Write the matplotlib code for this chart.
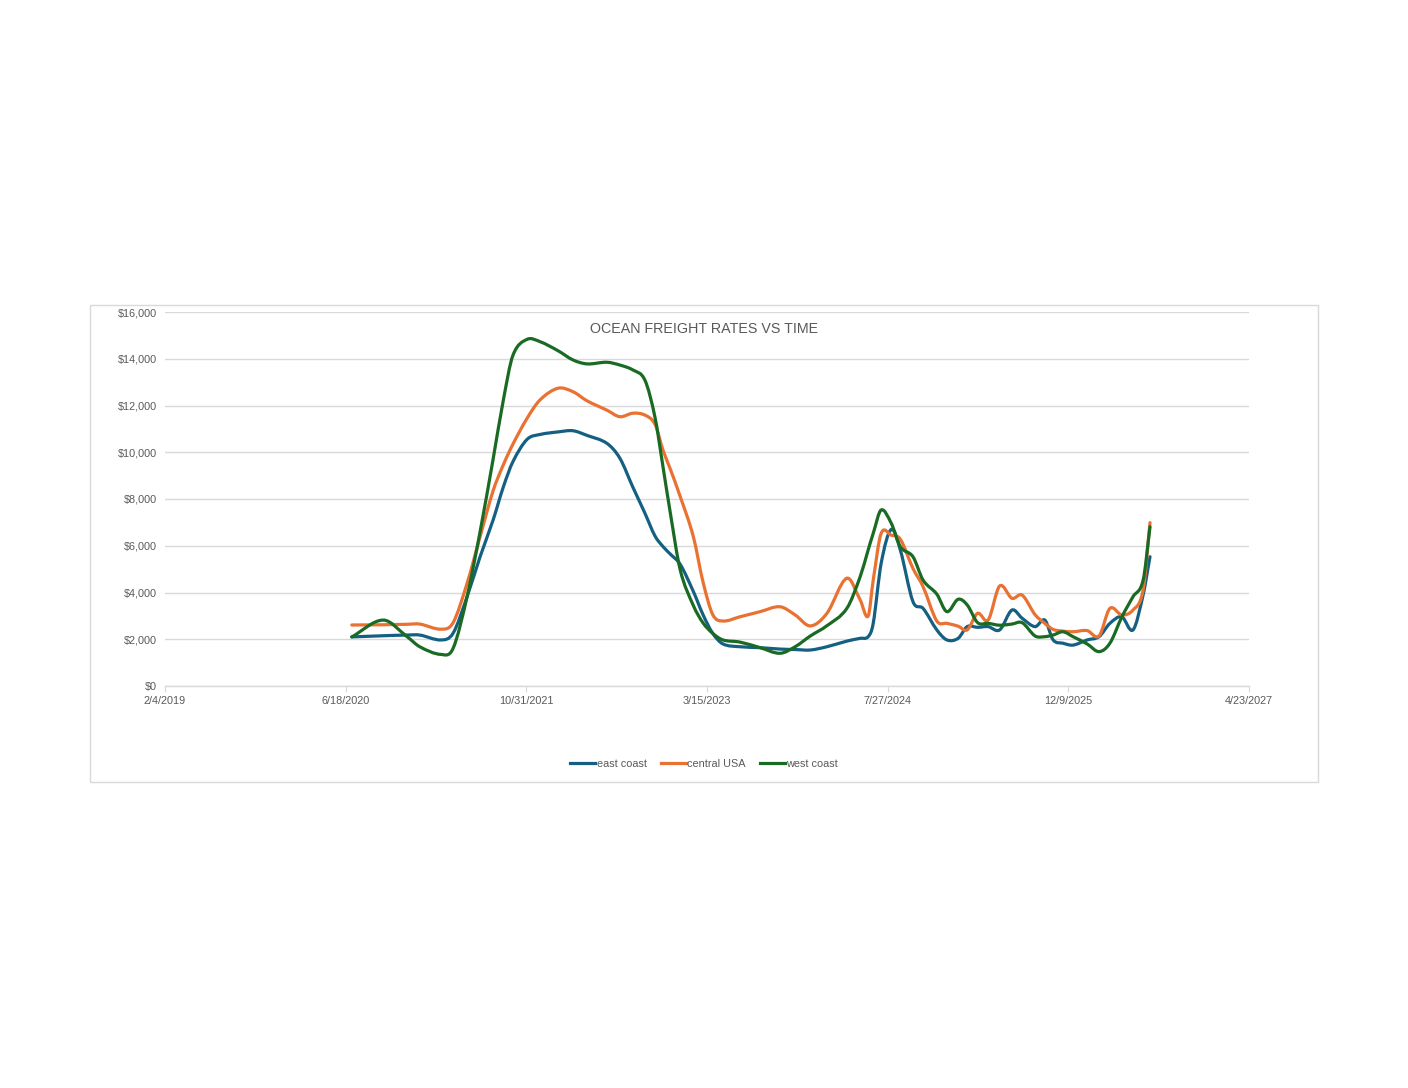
import matplotlib
matplotlib.use("Agg")
import matplotlib.pyplot as plt
import matplotlib.dates as mdates
from matplotlib.path import Path
from matplotlib.patches import PathPatch, Rectangle
from matplotlib.ticker import FixedLocator, FuncFormatter, MultipleLocator
import numpy as np
import pandas as pd

dates = ["2020-07-05", "2020-09-30", "2020-12-05", "2021-01-09", "2021-03-09", "2021-04-11",
         "2021-05-20", "2021-06-25", "2021-07-31", "2021-08-28", "2021-09-24", "2021-11-02",
         "2021-12-08", "2022-01-27", "2022-03-09", "2022-04-17", "2022-06-11", "2022-07-17",
         "2022-08-22", "2022-09-24", "2022-10-22", "2022-11-13", "2022-12-03", "2022-12-31",
         "2023-02-05", "2023-03-04", "2023-03-31", "2023-04-28", "2023-06-14", "2023-08-09",
         "2023-10-03", "2023-11-14", "2023-12-26", "2024-02-10", "2024-04-05", "2024-05-12",
         "2024-06-03", "2024-06-17", "2024-07-09", "2024-08-06", "2024-08-31", "2024-10-05",
         "2024-11-02", "2024-12-10", "2025-01-07", "2025-02-07", "2025-03-04", "2025-04-02",
         "2025-05-01", "2025-06-02", "2025-07-06", "2025-08-03", "2025-09-08", "2025-10-05",
         "2025-10-28", "2025-11-24", "2025-12-22", "2026-01-30", "2026-03-04", "2026-04-03",
         "2026-05-06", "2026-06-06", "2026-07-04", "2026-07-23"]

east_coast = [2100, 2150, 2180, 2180, 1970, 2250, 3820, 5530, 7100, 8500, 9600, 10550,
              10760, 10870, 10920, 10720, 10380, 9740, 8500, 7400, 6420, 5970, 5650, 5200,
              4050, 3050, 2250, 1800, 1680, 1640, 1580, 1560, 1540, 1680, 1920, 2040,
              2110, 2680, 5250, 6700, 5820, 3610, 3320, 2400, 1970, 2040, 2540, 2510,
              2540, 2400, 3250, 2900, 2540, 2820, 1970, 1830, 1750, 1970, 2110, 2680,
              2960, 2400, 3900, 5530]

central_usa = [2610, 2620, 2640, 2650, 2430, 2700, 4390, 6390, 8350, 9450, 10350, 11450,
               12240, 12740, 12590, 12200, 11800, 11520, 11670, 11590, 11200, 10100, 9300, 8100,
               6400, 4450, 3050, 2780, 2960, 3180, 3390, 3040, 2570, 3110, 4610, 3680,
               2990, 4530, 6530, 6450, 6280, 5030, 4250, 2780, 2680, 2560, 2400, 3110,
               2820, 4280, 3750, 3890, 3050, 2680, 2420, 2350, 2320, 2370, 2140, 3320,
               3040, 3250, 4110, 6990]

west_coast = [2100, 2820, 2110, 1680, 1350, 1600, 3820, 6600, 9700, 12200, 14150, 14830,
              14730, 14340, 13950, 13780, 13850, 13730, 13520, 13090, 11500, 9400, 7450, 4960,
              3450, 2700, 2250, 1970, 1880, 1640, 1400, 1680, 2140, 2580, 3320, 4680,
              5820, 6530, 7530, 6960, 5960, 5530, 4530, 3930, 3180, 3710, 3470, 2710,
              2680, 2600, 2650, 2710, 2140, 2110, 2180, 2320, 2110, 1800, 1470, 1830,
              2950, 3820, 4530, 6810]

series_names = ["east coast", "central USA", "west coast"]
series_colors = ["#156082", "#E97132", "#196B24"]
tick_dates = ["2019-02-04", "2020-06-18", "2021-10-31", "2023-03-15",
              "2024-07-27", "2025-12-09", "2027-04-23"]

plt.rcParams['font.family'] = ['Liberation Sans', 'DejaVu Sans']

fig = plt.figure(figsize=(14.08, 10.88), dpi=100)
fig.patch.set_facecolor("white")

W, H = 1408, 1088
fig.patches.append(Rectangle((90 / W, (H - 782) / H), 1228 / W, 477 / H,
                             transform=fig.transFigure, fill=False,
                             edgecolor="#d9d9d9", linewidth=1.0))

ax = fig.add_axes([165 / W, (H - 686) / H, (1249 - 165) / W, 374 / H])

x_num = mdates.date2num(pd.to_datetime(dates).to_pydatetime())


def smooth_path(x, y):
    """Smooth curve through the data points (Bezier segments, x-aware tangents)."""
    x = np.asarray(x, dtype=float)
    y = np.asarray(y, dtype=float)
    n = len(x)
    slopes = np.zeros(n)
    for i in range(n):
        if i == 0:
            slopes[i] = (y[1] - y[0]) / (x[1] - x[0])
        elif i == n - 1:
            slopes[i] = (y[-1] - y[-2]) / (x[-1] - x[-2])
        else:
            slopes[i] = (y[i + 1] - y[i - 1]) / (x[i + 1] - x[i - 1])
    verts = [(x[0], y[0])]
    codes = [Path.MOVETO]
    for i in range(n - 1):
        h = x[i + 1] - x[i]
        c1 = (x[i] + h / 3.0, y[i] + slopes[i] * h / 3.0)
        c2 = (x[i + 1] - h / 3.0, y[i + 1] - slopes[i + 1] * h / 3.0)
        verts += [c1, c2, (x[i + 1], y[i + 1])]
        codes += [Path.CURVE4] * 3
    return Path(verts, codes)


for vals, name, col in zip([east_coast, central_usa, west_coast], series_names, series_colors):
    path = smooth_path(x_num, vals)
    ax.add_patch(PathPatch(path, fill=False, edgecolor=col, linewidth=2.3,
                           capstyle="round", joinstyle="round", zorder=3))
    ax.plot([], [], color=col, linewidth=2.3, label=name)

tick_nums = mdates.date2num(pd.to_datetime(tick_dates).to_pydatetime())
ax.set_xlim(tick_nums[0], tick_nums[-1])
ax.set_ylim(0, 16000)
ax.xaxis.set_major_locator(FixedLocator(tick_nums))


def fmt_date(v, pos):
    d = mdates.num2date(v)
    return f"{d.month}/{d.day}/{d.year}"


ax.xaxis.set_major_formatter(FuncFormatter(fmt_date))
ax.yaxis.set_major_locator(MultipleLocator(2000))
ax.yaxis.set_major_formatter(FuncFormatter(lambda v, p: f"${v:,.0f}"))

for s in ["top", "right", "left"]:
    ax.spines[s].set_visible(False)
ax.spines["bottom"].set_color("#d9d9d9")
ax.spines["bottom"].set_linewidth(1.0)
ax.grid(axis="y", color="#d9d9d9", linewidth=1.0)
ax.set_axisbelow(True)
ax.tick_params(axis="y", length=0, labelsize=7.8, labelcolor="#595959", pad=6)
ax.tick_params(axis="x", length=4, color="#d9d9d9", labelsize=7.8, labelcolor="#595959", pad=3)

ax.text(0.497, 0.955, "OCEAN FREIGHT RATES VS TIME", transform=ax.transAxes,
        ha="center", va="center", fontsize=10.3, color="#595959")

fig.legend(loc="center", bbox_to_anchor=(0.5, (H - 764) / H), ncol=3, frameon=False,
           fontsize=7.8, handlelength=2.3, handletextpad=0.15, columnspacing=1.3,
           labelcolor="#595959")

fig.savefig("out.png", dpi=100, facecolor="white")
